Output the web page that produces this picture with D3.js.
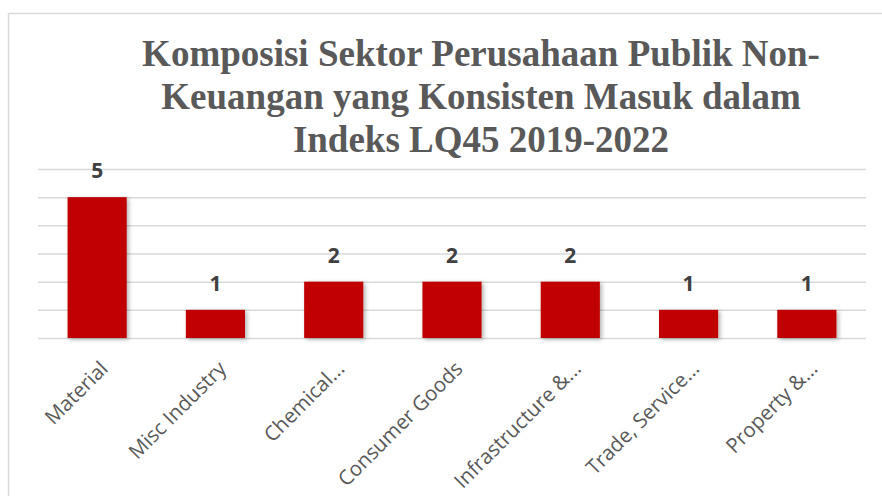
<!DOCTYPE html>
<html>
<head>
<meta charset="utf-8">
<script src="https://cdn.jsdelivr.net/npm/d3@7"></script>
<style>
  body { margin: 0; background: #fff; }
  svg { display: block; }
  .grid line { stroke: #d9d9d9; stroke-width: 1.5; }
  .grid path { display: none; }
</style>
</head>
<body>
<svg id="chart"></svg>
<script>
// data
const sectors = ["Material", "Misc Industry", "Chemical...", "Consumer Goods",
                 "Infrastructure &...", "Trade, Service...", "Property &..."];
const counts = [5, 1, 2, 2, 2, 1, 1];
const yTicks = [0, 1, 2, 3, 4, 5, 6];
const titleLines = ["Komposisi Sektor Perusahaan Publik Non-",
                    "Keuangan yang Konsisten Masuk dalam",
                    "Indeks LQ45 2019-2022"];

const config = {
  width: 882, height: 496,
  margin: { top: 169, left: 38, right: 16, bottom: 158 }
};

const innerW = config.width - config.margin.left - config.margin.right;
const innerH = config.height - config.margin.top - config.margin.bottom;

const svg = d3.select("#chart")
  .attr("width", config.width)
  .attr("height", config.height);

// drop shadow for bars
const defs = svg.append("defs");
defs.append("filter")
  .attr("id", "shadow")
  .attr("x", "-20%").attr("y", "-20%")
  .attr("width", "150%").attr("height", "150%")
  .append("feDropShadow")
  .attr("dx", 2).attr("dy", 1.5)
  .attr("stdDeviation", 2)
  .attr("flood-color", "#000")
  .attr("flood-opacity", 0.3);

// chart frame (only top/left edges are visible in the window)
svg.append("rect")
  .attr("x", 8.5).attr("y", 13.5)
  .attr("width", 1000).attr("height", 600)
  .attr("fill", "none")
  .attr("stroke", "#d9d9d9")
  .attr("stroke-width", 1.5);

// title
svg.append("text")
  .attr("x", 481)
  .attr("y", 66)
  .attr("text-anchor", "middle")
  .style("font-family", "'Liberation Serif', 'Times New Roman', serif")
  .style("font-weight", "bold")
  .style("font-size", "37px")
  .attr("fill", "#595959")
  .selectAll("tspan")
  .data(titleLines)
  .join("tspan")
  .attr("x", 481)
  .attr("dy", (d, i) => i === 0 ? 0 : 43)
  .text(d => d);

const g = svg.append("g")
  .attr("transform", `translate(${config.margin.left},${config.margin.top})`);

const x = d3.scaleBand()
  .domain(sectors)
  .range([0, innerW])
  .paddingInner(0.5)
  .paddingOuter(0.25);

const y = d3.scaleLinear()
  .domain([0, 6])
  .range([innerH, 0]);

// gridlines
g.append("g")
  .attr("class", "grid")
  .call(d3.axisLeft(y).tickValues(yTicks).tickSize(-innerW).tickFormat(""));

const rows = sectors.map((s, i) => ({ sector: s, value: counts[i] }));

// bars
g.selectAll(".bar")
  .data(rows)
  .join("rect")
  .attr("class", "bar")
  .attr("x", d => x(d.sector))
  .attr("y", d => y(d.value))
  .attr("width", x.bandwidth())
  .attr("height", d => innerH - y(d.value))
  .attr("fill", "#c00000")
  .attr("filter", "url(#shadow)");

// value labels
g.selectAll(".val")
  .data(rows)
  .join("text")
  .attr("class", "val")
  .attr("x", d => x(d.sector) + x.bandwidth() / 2)
  .attr("y", d => y(d.value) - 19)
  .attr("text-anchor", "middle")
  .style("font-family", "'Open Sans', sans-serif")
  .style("font-weight", "bold")
  .style("font-size", "21px")
  .attr("fill", "#404040")
  .text(d => d.value);

// category labels
g.selectAll(".cat")
  .data(rows)
  .join("text")
  .attr("class", "cat")
  .attr("transform", d =>
    `translate(${x(d.sector) + x.bandwidth() / 2 + 12},${innerH + 32}) rotate(-45)`)
  .attr("text-anchor", "end")
  .style("font-family", "'Open Sans', sans-serif")
  .style("font-size", "20.5px")
  .attr("fill", "#595959")
  .text(d => d.sector);
</script>
</body>
</html>
